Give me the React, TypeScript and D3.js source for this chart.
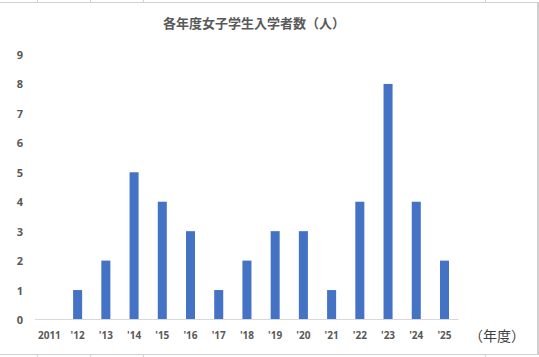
import React from "react";
import * as d3 from "d3";

const categories = ["2011", "'12", "'13", "'14", "'15", "'16", "'17", "'18", "'19", "'20", "'21", "'22", "'23", "'24", "'25"];
const values = [0, 1, 2, 5, 4, 3, 1, 2, 3, 3, 1, 4, 8, 4, 2];
const yTicks = [0, 1, 2, 3, 4, 5, 6, 7, 8, 9];
const title = "各年度女子学生入学者数（人）";
const xUnit = "（年度）";
const cellLines = [37.5, 90.5, 143.5, 485.5];

const W = 539;
const H = 357;
const font = "'Noto Sans CJK JP', 'Noto Sans', sans-serif";

export default function App() {
  const x = d3.scaleBand<string>().domain(categories).range([35.3, 458.6]).paddingInner(0.68).paddingOuter(0.34);
  const y = d3.scaleLinear().domain([0, 9]).range([319.5, 54.5]);
  const step = x.step();
  return (
    <div style={{ position: "fixed", left: 0, top: 0 }}>
      <svg width={W} height={H} style={{ display: "block", background: "#fff" }}>
        {cellLines.map((cx) => (
          <g key={cx}>
            <line x1={cx} x2={cx} y1={0} y2={2} stroke="#d4d4d4" strokeWidth={1} />
            <line x1={cx} x2={cx} y1={355} y2={357} stroke="#d4d4d4" strokeWidth={1} />
          </g>
        ))}
        <line x1={0} x2={W} y1={2.5} y2={2.5} stroke="#d0d0d0" strokeWidth={1} />
        <line x1={0} x2={W} y1={354.5} y2={354.5} stroke="#d0d0d0" strokeWidth={1} />
        <rect x={537} y={2} width={2} height={352} fill="#cfcfcf" />
        <text x={254} y={22} textAnchor="middle" dominantBaseline="central" fontFamily={font} fontWeight="bold" fontSize={13} fill="#595959">
          {title}
        </text>
        {yTicks.map((t) => (
          <text key={t} x={20} y={y(t)} textAnchor="middle" dominantBaseline="central" fontFamily="'Open Sans', 'Noto Sans', sans-serif" fontWeight="bold" fontSize={11} fill="#595959">
            {t}
          </text>
        ))}
        {categories.map((c, i) => (
          <rect key={c} x={x(c)} y={y(values[i])} width={x.bandwidth()} height={y(0) - y(values[i])} fill="#4472C4" />
        ))}
        <line x1={35} x2={458.5} y1={319.5} y2={319.5} stroke="#d9d9d9" strokeWidth={1} />
        {categories.map((c) => (
          <text key={c} x={(x(c) as number) + x.bandwidth() / 2} y={335} textAnchor="middle" dominantBaseline="central" fontFamily="'Open Sans', 'Noto Sans', sans-serif" fontWeight="bold" fontSize={10} fill="#595959">
            {c}
          </text>
        ))}
        <text x={469} y={335} textAnchor="start" dominantBaseline="central" fontFamily={font} fontSize={14} fill="#404040">
          {xUnit}
        </text>
      </svg>
    </div>
  );
}
